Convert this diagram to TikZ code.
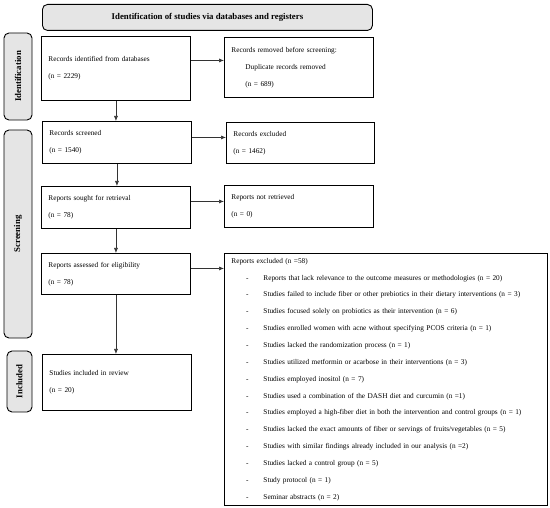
\documentclass[tikz,border=0pt]{standalone}
\usepackage{fontspec}
\setmainfont{Liberation Serif}
\usetikzlibrary{arrows.meta,positioning}

\newcommand{\exitem}[1]{\makebox[32pt][c]{-}#1}

\begin{document}
\begin{tikzpicture}[x=1pt,y=-1pt,
    every node/.style={font=\fontsize{7.3}{17}\selectfont},
    box/.style={draw,line width=0.9pt,anchor=north west,align=left,inner xsep=7pt,inner ysep=0pt},
    side/.style={draw,line width=0.9pt,fill=gray!20,rounded corners=5pt,rotate=90,inner sep=0pt,
        font=\fontsize{8.8}{10}\selectfont\bfseries},
    arr/.style={-{Latex[length=5pt,width=4pt]},line width=0.6pt,black!80}]
    \useasboundingbox (0,0) rectangle (550,508);

    % header and phases
    \node [draw,line width=0.9pt,fill=gray!20,rounded corners=5pt,anchor=north west,minimum width=330pt,minimum height=26pt,
        font=\fontsize{8.8}{10}\selectfont\bfseries] (head) at (42,4) {Identification of studies via databases and registers};
    \node [side,minimum width=87pt,minimum height=28pt] (sideid) at (18,76.5) {Identification};
    \node [side,minimum width=208pt,minimum height=28pt] (sidescr) at (18,234) {Screening};
    \node [side,minimum width=61pt,minimum height=25pt] (sideinc) at (19.5,381.5) {Included};

    % main column
    \node [box,text width=135pt,minimum height=64pt] (ident) at (41,36) {Records identified from databases\\(n = 2229)};
    \node [box,text width=135pt,minimum height=42pt] (screened) at (42,121) {Records screened\\(n = 1540)};
    \node [box,text width=135pt,minimum height=42pt] (sought) at (41,186) {Reports sought for retrieval\\(n = 78)};
    \node [box,text width=135pt,minimum height=41pt] (assessed) at (41,253) {Reports assessed for eligibility\\(n = 78)};
    \node [box,text width=135pt,minimum height=56pt] (included) at (42,354) {Studies included in review\\(n = 20)};

    % side column
    \node [box,text width=135pt,minimum height=60pt] (removed) at (224,37) {Records removed before screening:\\
        \hspace*{14pt}Duplicate records removed\\\hspace*{14pt}(n = 689)};
    \node [box,text width=134pt,minimum height=41pt] (recexcl) at (226,122) {Records excluded\\(n = 1462)};
    \node [box,text width=135pt,minimum height=42pt] (notret) at (224,185) {Reports not retrieved\\(n = 0)};
    \node [box,text width=309pt,minimum height=252pt,font=\fontsize{7.3}{16.85}\selectfont] (repexcl) at (224,253) {Reports excluded (n =58)\\
        \exitem{Reports that lack relevance to the outcome measures or methodologies (n = 20)}\\
        \exitem{Studies failed to include fiber or other prebiotics in their dietary interventions (n = 3)}\\
        \exitem{Studies focused solely on probiotics as their intervention (n = 6)}\\
        \exitem{Studies enrolled women with acne without specifying PCOS criteria (n = 1)}\\
        \exitem{Studies lacked the randomization process (n = 1)}\\
        \exitem{Studies utilized metformin or acarbose in their interventions (n = 3)}\\
        \exitem{Studies employed inositol (n = 7)}\\
        \exitem{Studies used a combination of the DASH diet and curcumin (n =1)}\\
        \exitem{Studies employed a high-fiber diet in both the intervention and control groups (n = 1)}\\
        \exitem{Studies lacked the exact amounts of fiber or servings of fruits/vegetables (n = 5)}\\
        \exitem{Studies with similar findings already included in our analysis (n =2)}\\
        \exitem{Studies lacked a control group (n = 5)}\\
        \exitem{Study protocol (n = 1)}\\
        \exitem{Seminar abstracts (n = 2)}};

    % arrows
    \draw [arr] (ident.south) -- (ident.south |- screened.north);
    \draw [arr] (screened.south) -- (screened.south |- sought.north);
    \draw [arr] (sought.south) -- (sought.south |- assessed.north);
    \draw [arr] (assessed.south) -- (assessed.south |- included.north);

    \draw [arr] ([yshift=8pt]ident.east) -- ([yshift=8pt]ident.east -| removed.west);
    \draw [arr] ([yshift=5pt]screened.east) -- ([yshift=5pt]screened.east -| recexcl.west);
    \draw [arr] ([yshift=6pt]sought.east) -- ([yshift=6pt]sought.east -| notret.west);
    \draw [arr] ([yshift=5.5pt]assessed.east) -- ([yshift=5.5pt]assessed.east -| repexcl.west);
\end{tikzpicture}
\end{document}
